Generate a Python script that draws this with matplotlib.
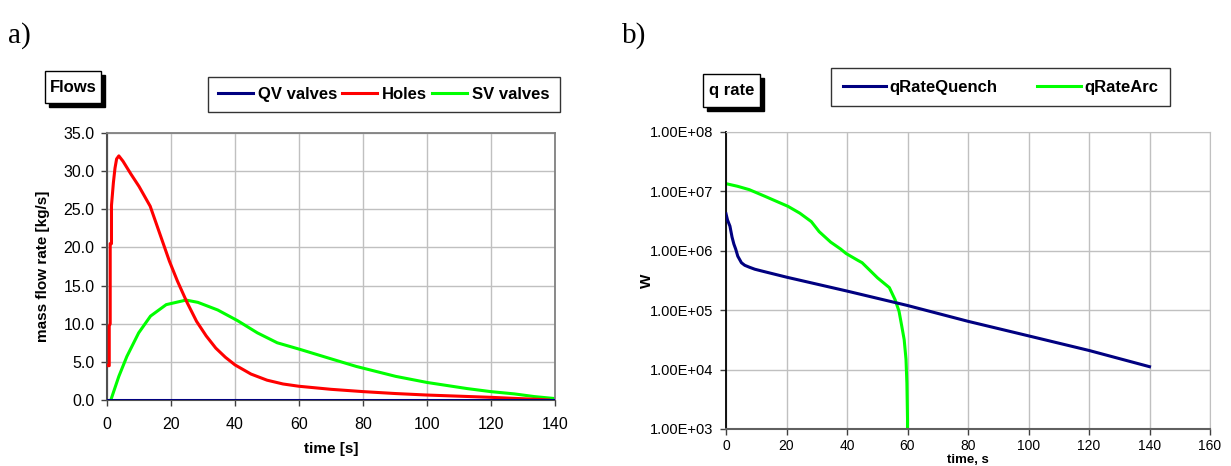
import numpy as np
import matplotlib
matplotlib.use("Agg")
import matplotlib.pyplot as plt
from matplotlib.patches import Rectangle
from matplotlib.ticker import FixedLocator, FuncFormatter, NullLocator

plt.rcParams['font.family'] = ['Liberation Sans', 'DejaVu Sans']

# ---- panel a) : flows ----
qv_t = [0, 140]
qv_flow = [0.0, 0.0]

holes_t = [0.5, 0.5, 0.7, 0.7, 1.0, 1.0, 1.4, 1.4, 2.0, 2.5, 3.0, 3.7, 5, 7.5, 10,
           13.5, 17, 19.5, 22, 25, 28, 31, 34, 37, 40, 45, 50, 55, 60, 70, 80,
           90, 100, 110, 120, 128, 135, 138]
holes_flow = [4.5, 4.5, 4.5, 9.7, 10.0, 20.5, 20.5, 25.5, 28.5, 30.4, 31.6, 32.0,
              31.3, 29.6, 28.0, 25.4, 21.2, 18.2, 15.6, 12.8, 10.3, 8.4, 6.8, 5.6,
              4.6, 3.4, 2.6, 2.1, 1.8, 1.4, 1.1, 0.85, 0.65, 0.5, 0.35, 0.2, 0.08, 0.0]

sv_t = [1.2, 3.7, 6.2, 9.9, 13.6, 18.5, 24.7, 28.4, 34.6, 40.8, 47, 53.2, 60.6,
        69.2, 77.9, 90.2, 100, 112.5, 119.9, 127.3, 133.5, 139.7]
sv_flow = [0.0, 3.1, 5.7, 8.8, 11.0, 12.5, 13.1, 12.8, 11.8, 10.4, 8.8, 7.5, 6.6,
           5.5, 4.4, 3.1, 2.3, 1.5, 1.1, 0.8, 0.45, 0.2]

# ---- panel b) : heat rate ----
quench_t = [0, 0.5, 1.3, 2.0, 2.6, 3.2, 3.9, 5.1, 6.2, 7.7, 9.5, 11.6, 20, 40, 60,
            80, 100, 120, 140]
quench_q = [4.2e6, 3.3e6, 2.6e6, 1.7e6, 1.3e6, 1.07e6, 8.1e5, 6.3e5, 5.7e5, 5.3e5,
            4.9e5, 4.6e5, 3.6e5, 2.1e5, 1.2e5, 6.5e4, 3.7e4, 2.1e4, 1.12e4]

arc_t = [0, 3.8, 7.7, 12.8, 16.7, 20.5, 24.4, 28.2, 30.8, 34.6, 37.9, 39.7, 43.6,
         45, 50.1, 54, 55.9, 57.2, 58.1, 58.9, 59.5, 59.8, 60.0, 60.0]
arc_q = [1.35e7, 1.22e7, 1.07e7, 8.3e6, 6.8e6, 5.6e6, 4.3e6, 3.1e6, 2.1e6, 1.4e6,
         1.07e6, 9.0e5, 6.9e5, 6.3e5, 3.5e5, 2.4e5, 1.5e5, 9.6e4, 5.4e4, 3.2e4,
         1.5e4, 5.9e3, 1.5e3, 5.0e2]

W, H = 1231, 466
fig = plt.figure(figsize=(W / 100, H / 100), dpi=100)


def fx(px):
    return px / W


def fy(py):
    return 1 - py / H


def boxed_title(x0, y0, x1, y1, text):
    # white box with a black drop shadow, pixel coords from the top-left
    sh = 4
    fig.add_artist(Rectangle((fx(x0 + sh), fy(y1 + sh)), fx(x1 - x0), (y1 - y0) / H,
                             transform=fig.transFigure, fc='black', ec='black', lw=1))
    fig.add_artist(Rectangle((fx(x0), fy(y1)), fx(x1 - x0), (y1 - y0) / H,
                             transform=fig.transFigure, fc='white', ec='black', lw=1))
    fig.text(fx((x0 + x1) / 2), fy((y0 + y1) / 2), text, ha='center', va='center',
             fontsize=12, fontweight='bold')


grid_c = '#c0c0c0'

# ---------- a) ----------
ax1 = fig.add_axes([fx(107), fy(400), fx(555 - 107), (400 - 133) / H])
ax1.plot(qv_t, qv_flow, color='#000080', lw=2.2, label='QV valves', zorder=4)
ax1.plot(holes_t, holes_flow, color='#ff0000', lw=2.2, label='Holes', zorder=3)
ax1.plot(sv_t, sv_flow, color='#00ff00', lw=2.2, label='SV valves', zorder=2)
ax1.set_xlim(0, 140)
ax1.set_ylim(0, 35)
ax1.set_xticks(range(0, 141, 20))
ax1.set_yticks(np.arange(0, 35.1, 5))
ax1.yaxis.set_major_formatter(FuncFormatter(lambda v, p: '%.1f' % v))
ax1.grid(True, color=grid_c, lw=1)
ax1.set_axisbelow(True)
for s in ['top', 'right']:
    ax1.spines[s].set_color('#808080')
    ax1.spines[s].set_linewidth(1.3)
ax1.spines['left'].set_color('#505050')
ax1.spines['left'].set_linewidth(1.5)
ax1.spines['bottom'].set_color('#505050')
ax1.tick_params(direction='out', length=4, width=1, color='#404040',
                labelsize=11.5)
ax1.tick_params(axis='x', pad=8)
ax1.tick_params(axis='y', pad=5)
ax1.set_xlabel('time [s]', fontsize=11, fontweight='bold')
ax1.xaxis.set_label_coords(0.5, -(449 - 400) / (400 - 133), transform=ax1.transAxes)
ax1.set_ylabel('mass flow rate [kg/s]', fontsize=11, fontweight='bold')
ax1.yaxis.set_label_coords(-(107 - 43) / (555 - 107), 0.5)
ax1.xaxis.label.set_va('center')
ax1.yaxis.label.set_va('center')

leg1 = fig.legend(*ax1.get_legend_handles_labels(), loc='upper left',
                  bbox_to_anchor=(fx(208), fy(77)), ncol=3, frameon=True,
                  fancybox=False, edgecolor='black', borderaxespad=0,
                  prop={'weight': 'bold', 'size': 12}, handlelength=2.1,
                  handletextpad=0.3, columnspacing=0.3, borderpad=0.6)
leg1.get_frame().set_linewidth(1)

boxed_title(45, 71, 101, 103, 'Flows')

# ---------- b) ----------
ax2 = fig.add_axes([fx(726), fy(429), fx(1210 - 726), (429 - 132) / H])
ax2.plot(quench_t, quench_q, color='#000080', lw=2.2, label='qRateQuench', zorder=3)
ax2.plot(arc_t, arc_q, color='#00ff00', lw=2.2, label='qRateArc', zorder=2)
ax2.set_yscale('log')
ax2.set_xlim(0, 160)
ax2.set_ylim(1e3, 1e8)
ax2.set_xticks(range(0, 161, 20))
ax2.yaxis.set_major_locator(FixedLocator([1e3, 1e4, 1e5, 1e6, 1e7, 1e8]))
ax2.yaxis.set_minor_locator(NullLocator())
ax2.yaxis.set_major_formatter(FuncFormatter(lambda v, p: '1.00E+%02d' % round(np.log10(v))))
ax2.grid(True, color=grid_c, lw=1)
ax2.set_axisbelow(True)
for s in ['top', 'right']:
    ax2.spines[s].set_color(grid_c)
ax2.spines['left'].set_color('black')
ax2.spines['left'].set_linewidth(1.3)
ax2.spines['bottom'].set_color('#606060')
ax2.spines['bottom'].set_linewidth(1.5)
ax2.tick_params(direction='out', length=4, width=1, color='#404040',
                labelsize=10.5)
ax2.tick_params(axis='x', pad=3, labelsize=10)
ax2.tick_params(axis='y', pad=5)
ax2.set_xlabel('time, s', fontsize=9.5, fontweight='bold')
ax2.xaxis.set_label_coords(0.5, -(466 - 429) / (429 - 132))
ax2.xaxis.label.set_va('bottom')
ax2.set_ylabel('W', fontsize=11, fontweight='bold')
ax2.yaxis.set_label_coords(-(726 - 647) / (1210 - 726), 0.5)
ax2.yaxis.label.set_va('center')

leg2 = fig.legend(*ax2.get_legend_handles_labels(), loc='upper left',
                  bbox_to_anchor=(fx(831), fy(68)), ncol=2, frameon=True,
                  fancybox=False, edgecolor='black', borderaxespad=0,
                  prop={'weight': 'bold', 'size': 12}, handlelength=2.6,
                  handletextpad=0.2, columnspacing=2.4, borderpad=0.7)
leg2.get_frame().set_linewidth(1)

boxed_title(703, 74, 760, 107, 'q rate')

fig.text(fx(8), fy(36), 'a)', fontsize=21, family='Liberation Serif', va='center')
fig.text(fx(622), fy(36), 'b)', fontsize=21, family='Liberation Serif', va='center')

fig.savefig('out.png', dpi=100)
